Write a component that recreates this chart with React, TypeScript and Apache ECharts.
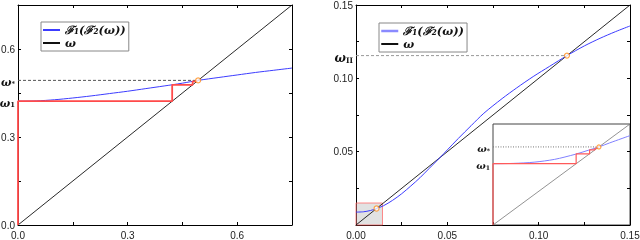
import React, { useEffect, useRef } from "react";
import * as echarts from "echarts";

// ---- Left panel data ----
const leftX = [0, 0.05, 0.1, 0.15, 0.2, 0.25, 0.3, 0.35, 0.4, 0.422, 0.45, 0.493, 0.55, 0.6, 0.65, 0.7, 0.75];
const leftY = [0.422, 0.423, 0.427, 0.433, 0.44, 0.448, 0.456, 0.465, 0.474, 0.478, 0.4835, 0.493, 0.503, 0.5115, 0.52, 0.5275, 0.535];
const leftIterates = [0, 0.422, 0.478, 0.4897, 0.4924];
const leftFixed = 0.493;
const leftTicks = [0, 0.15, 0.3, 0.45, 0.6, 0.75];
const leftLabels = [0, 0.3, 0.6];

// ---- Right panel data ----
const rightX = [0, 0.004, 0.008, 0.01125, 0.015, 0.02, 0.025, 0.03, 0.035, 0.04, 0.046, 0.05, 0.056, 0.063, 0.07, 0.08, 0.088, 0.097, 0.106, 0.1155, 0.125, 0.1336, 0.142, 0.15];
const rightY = [0.0088, 0.009, 0.0099, 0.01125, 0.0131, 0.0168, 0.0213, 0.0266, 0.0322, 0.0385, 0.046, 0.0512, 0.059, 0.0677, 0.0762, 0.0862, 0.0935, 0.1012, 0.1082, 0.1155, 0.1221, 0.1273, 0.1318, 0.1357];
const rightFixedLow = 0.01125;
const rightFixedHigh = 0.1155;
const rightTicks = [0, 0.025, 0.05, 0.075, 0.1, 0.125, 0.15];
const rightXLabels = [0, 0.05, 0.1, 0.15];
const rightYLabels = [0.05, 0.1, 0.15];
const zoomBox = [0.0145, 0.015];

// ---- Inset data ----
const insetMax = 0.01455;
const insetX = [0, 0.00218, 0.004365, 0.006548, 0.00873, 0.010185, 0.011247, 0.012368, 0.01455];
const insetY = [0.00883, 0.008876, 0.00905, 0.009458, 0.010185, 0.010796, 0.011247, 0.011815, 0.012877];
const insetIterates = [0, 0.00883, 0.01026, 0.01083, 0.01106, 0.01116];
const insetFixed = 0.011247;

const zip = (xs: number[], ys: number[]) => xs.map((x, i) => [x, ys[i]]);
const cobweb = (it: number[]) => {
  const pts: number[][] = [[it[0], it[0]]];
  for (let i = 1; i < it.length; i++) {
    pts.push([it[i - 1], it[i]]);
    pts.push([it[i], it[i]]);
  }
  return pts;
};
const near = (a: number, b: number) => Math.abs(a - b) < 1e-6;

const tickFont = { fontFamily: "Liberation Sans, Arial, sans-serif", fontSize: 10, color: "#222" };
const omegaRich = (size: number) => ({
  w: { fontFamily: "DejaVu Serif", fontWeight: "bold", fontStyle: "italic", fontSize: size, color: "#111", lineHeight: size + 4, verticalAlign: "bottom" },
  s: { fontFamily: "DejaVu Serif", fontWeight: "bold", fontSize: size * 0.62, color: "#111", lineHeight: size + 1, verticalAlign: "bottom" },
});

function axis(gridIndex: number, min: number, max: number, ticks: number[], position: string, labels: number[] | null, fmt: (v: number) => string, richSize = 12, margin = 4) {
  return {
    gridIndex,
    type: "value",
    min,
    max,
    position,
    axisLine: { show: true, onZero: false, lineStyle: { color: "#000", width: 1 } },
    axisTick: { show: true, inside: true, length: 3, customValues: ticks, lineStyle: { color: "#000", width: 1 } },
    axisLabel: labels
      ? { show: true, customValues: labels, formatter: fmt, margin, ...tickFont, rich: omegaRich(richSize) }
      : { show: false },
    splitLine: { show: false },
  };
}

export default function App() {
  const ref = useRef<HTMLDivElement>(null);
  useEffect(() => {
    if (!ref.current) return;
    const chart = echarts.init(ref.current, null, { renderer: "svg" });
    const w1L = leftIterates[1];
    const w1I = insetIterates[1];
    const leftYFmt = (v: number) => {
      if (near(v, leftFixed)) return "{w|ω}{s|*}";
      if (near(v, w1L)) return "{w|ω}{s|1}";
      return v.toFixed(1);
    };
    const rightYFmt = (v: number) => {
      if (near(v, rightFixedHigh)) return "{w|ω}{s|II}";
      return v.toFixed(2);
    };
    const insetYFmt = (v: number) => {
      if (near(v, insetFixed)) return "{w|ω}{s|*}";
      if (near(v, w1I)) return "{w|ω}{s|1}";
      return "";
    };
    const legendBase = {
      orient: "vertical",
      backgroundColor: "#fff",
      borderColor: "#888",
      borderWidth: 1,
      padding: [2, 3, 2, 1],
      itemGap: 1,
      itemWidth: 17,
      itemHeight: 10,
      itemStyle: { opacity: 0 },
      formatter: (name: string) => (name.startsWith("F") ? "{f|ℱ₁(ℱ₂(ω))}" : "{f|ω}"),
      textStyle: {
        rich: {
          f: { fontFamily: "DejaVu Serif", fontWeight: "bold", fontStyle: "italic", fontSize: 11.5, color: "#111" },
        },
      },
    };
    const circle = (x: number, xi: number, yi: number) => ({
      type: "scatter",
      xAxisIndex: xi,
      yAxisIndex: yi,
      data: [[x, x]],
      symbol: "circle",
      symbolSize: 5,
      itemStyle: { color: "#fff", borderColor: "#ff8c1a", borderWidth: 1.2 },
      z: 10,
    });
    chart.setOption({
      animation: false,
      grid: [
        { left: 18, top: 5, width: 274, height: 220, outerBoundsMode: "none" },
        { left: 356, top: 5, width: 274, height: 220, outerBoundsMode: "none" },
        { left: 493, top: 124, width: 137, height: 101, show: true, backgroundColor: "#fff", borderColor: "#444", borderWidth: 1, outerBoundsMode: "none" },
      ],
      xAxis: [
        axis(0, 0, 0.75, leftTicks, "bottom", leftLabels, (v) => v.toFixed(1), 12, 5),
        axis(0, 0, 0.75, leftTicks, "top", null, (v) => ""),
        axis(1, 0, 0.15, rightTicks, "bottom", rightXLabels, (v) => v.toFixed(2), 12, 5),
        axis(1, 0, 0.15, rightTicks, "top", null, (v) => ""),
        { gridIndex: 2, type: "value", min: 0, max: insetMax, axisLine: { show: false }, axisTick: { show: false }, axisLabel: { show: false }, splitLine: { show: false } },
      ],
      yAxis: [
        axis(0, 0, 0.75, leftTicks, "left", [...leftLabels, w1L, leftFixed], leftYFmt, 11, 3),
        axis(0, 0, 0.75, leftTicks, "right", null, (v) => ""),
        axis(1, 0, 0.15, rightTicks, "left", [...rightYLabels, rightFixedHigh], rightYFmt, 12, 3),
        axis(1, 0, 0.15, rightTicks, "right", null, (v) => ""),
        {
          gridIndex: 2,
          type: "value",
          min: 0,
          max: insetMax,
          axisLine: { show: false },
          axisTick: { show: false },
          axisLabel: { show: true, customValues: [w1I, insetFixed], formatter: insetYFmt, margin: 3, rich: omegaRich(10) },
          splitLine: { show: false },
        },
      ],
      legend: [
        { ...legendBase, left: 41, top: 22, data: [{ name: "FL" }, { name: "WL" }] },
        {
          ...legendBase,
          left: 379,
          top: 23,
          data: [{ name: "FR", lineStyle: { width: 2.5, color: "#8a8aff" } }, { name: "WR" }],
        },
      ],
      series: [
        // left
        { name: "WL", type: "line", xAxisIndex: 0, yAxisIndex: 0, data: [[0, 0], [0.75, 0.75]], symbol: "none", itemStyle: { color: "#111" }, lineStyle: { color: "#111", width: 0.9 } },
        { name: "FL", type: "line", xAxisIndex: 0, yAxisIndex: 0, data: zip(leftX, leftY), smooth: 0.3, symbol: "none", itemStyle: { color: "#3c3cff" }, lineStyle: { color: "#3c3cff", width: 1 } },
        { type: "line", xAxisIndex: 0, yAxisIndex: 0, data: cobweb(leftIterates), symbol: "none", lineStyle: { color: "#ff4a4a", width: 1.8 }, z: 4 },
        { type: "line", xAxisIndex: 0, yAxisIndex: 0, data: [[0, leftFixed], [leftFixed, leftFixed]], symbol: "none", lineStyle: { color: "#555", width: 1, type: [3, 2] } },
        circle(leftFixed, 0, 0),
        // right
        {
          type: "line", xAxisIndex: 2, yAxisIndex: 2, data: [], symbol: "none",
          markArea: {
            silent: true,
            itemStyle: { color: "rgba(160,160,160,0.3)", borderColor: "rgba(255,90,90,0.7)", borderWidth: 1 },
            data: [[{ coord: [0, 0] }, { coord: zoomBox }]],
          },
        },
        { name: "WR", type: "line", xAxisIndex: 2, yAxisIndex: 2, data: [[0, 0], [0.15, 0.15]], symbol: "none", itemStyle: { color: "#111" }, lineStyle: { color: "#111", width: 0.9 } },
        { name: "FR", type: "line", xAxisIndex: 2, yAxisIndex: 2, data: zip(rightX, rightY), smooth: 0.3, symbol: "none", itemStyle: { color: "#3c3cff" }, lineStyle: { color: "#3c3cff", width: 1 } },
        { type: "line", xAxisIndex: 2, yAxisIndex: 2, data: [[0, rightFixedHigh], [rightFixedHigh, rightFixedHigh]], symbol: "none", lineStyle: { color: "#999", width: 1, type: [3, 2] } },
        circle(rightFixedLow, 2, 2),
        circle(rightFixedHigh, 2, 2),
        // inset
        { type: "line", xAxisIndex: 4, yAxisIndex: 4, data: [[0, 0], [insetMax, insetMax]], symbol: "none", lineStyle: { color: "#777", width: 0.8 } },
        { type: "line", xAxisIndex: 4, yAxisIndex: 4, data: zip(insetX, insetY), smooth: 0.3, symbol: "none", lineStyle: { color: "#8080ff", width: 1 } },
        { type: "line", xAxisIndex: 4, yAxisIndex: 4, data: cobweb(insetIterates), symbol: "none", lineStyle: { color: "#ff5a5a", width: 1.2 }, z: 4 },
        { type: "line", xAxisIndex: 4, yAxisIndex: 4, data: [[0, insetFixed], [insetFixed, insetFixed]], symbol: "none", lineStyle: { color: "#777", width: 1, type: [1, 1.5] } },
        { ...circle(insetFixed, 4, 4), symbolSize: 4 },
      ],
    });
    return () => chart.dispose();
  }, []);
  return <div ref={ref} style={{ position: "fixed", left: 0, top: 0, width: 640, height: 240 }} />;
}
